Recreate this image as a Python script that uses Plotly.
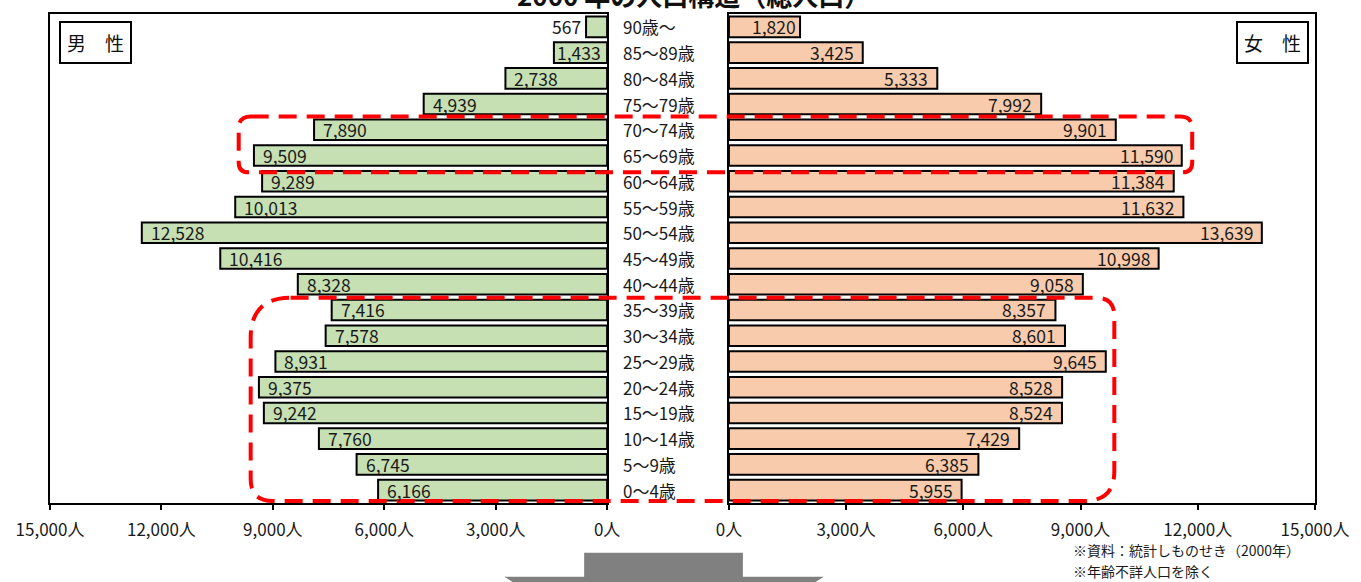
import plotly.graph_objects as go

# ---------------- data ----------------
ages = ["90歳～", "85～89歳", "80～84歳", "75～79歳", "70～74歳", "65～69歳",
        "60～64歳", "55～59歳", "50～54歳", "45～49歳", "40～44歳", "35～39歳",
        "30～34歳", "25～29歳", "20～24歳", "15～19歳", "10～14歳", "5～9歳", "0～4歳"]
male = [567, 1433, 2738, 4939, 7890, 9509, 9289, 10013, 12528, 10416, 8328,
        7416, 7578, 8931, 9375, 9242, 7760, 6745, 6166]
female = [1820, 3425, 5333, 7992, 9901, 11590, 11384, 11632, 13639, 10998, 9058,
          8357, 8601, 9645, 8528, 8524, 7429, 6385, 5955]
tick_vals = [0, 3000, 6000, 9000, 12000, 15000]
tick_text = ["0人", "3,000人", "6,000人", "9,000人", "12,000人", "15,000人"]
title_text = "2000 年の人口構造（総人口）"
male_label = "男　性"
female_label = "女　性"
notes = ["※資料：統計しものせき（2000年）", "※年齢不詳人口を除く"]

# ---------------- layout geometry ----------------
W, H = 1361, 582
ML, MR, MT, MB = 50, 44, 12, 79
PW = W - ML - MR
PH = H - MT - MB


def px(x):
    return (x - ML) / PW


def py(y):
    return (H - MB - y) / PH


FONT = "Noto Sans CJK JP, Noto Sans, sans-serif"
GREEN = "#C6E0B4"
SALMON = "#F8CBAD"
TXT = "#1a1a1a"

fig = go.Figure()
fig.add_trace(go.Bar(y=ages, x=male, orientation="h", xaxis="x", yaxis="y",
                     marker=dict(color=GREEN, line=dict(color="#000000", width=2)),
                     width=0.8, hoverinfo="x+y"))
fig.add_trace(go.Bar(y=ages, x=female, orientation="h", xaxis="x2", yaxis="y2",
                     marker=dict(color=SALMON, line=dict(color="#000000", width=2)),
                     width=0.8, hoverinfo="x+y"))

annotations = []
VAL_FONT = dict(size=17.5, color=TXT, family=FONT)
for a, m, f in zip(ages, male, female):
    if m < 1000:
        annotations.append(dict(x=m, y=a, xref="x", yref="y", text=f"{m:,}",
                                xanchor="right", xshift=-3, showarrow=False, font=VAL_FONT))
    else:
        annotations.append(dict(x=m, y=a, xref="x", yref="y", text=f"{m:,}",
                                xanchor="left", xshift=7 if m > 2000 else 1,
                                showarrow=False, font=VAL_FONT))
    annotations.append(dict(x=f, y=a, xref="x2", yref="y", text=f"{f:,}",
                            xanchor="right", xshift=-7 if f > 2000 else -2,
                            showarrow=False, font=VAL_FONT))
    annotations.append(dict(x=px(622), y=a, xref="paper", yref="y",
                            text=a, xanchor="left", showarrow=False,
                            font=dict(size=17, color=TXT, family=FONT)))

annotations.append(dict(x=px(695), y=py(-8), xref="paper", yref="paper",
                        text=f"<b>{title_text}</b>", showarrow=False,
                        xanchor="center", yanchor="middle",
                        font=dict(size=26, color="#111", family=FONT)))
annotations.append(dict(x=px(59), y=py(19), xref="paper", yref="paper",
                        text=male_label, showarrow=False, xanchor="left", yanchor="top",
                        bordercolor="#000", borderwidth=2, borderpad=6,
                        bgcolor="white", font=dict(size=19, color="#111", family=FONT)))
annotations.append(dict(x=px(1311), y=py(19), xref="paper", yref="paper",
                        text=female_label, showarrow=False, xanchor="right", yanchor="top",
                        bordercolor="#000", borderwidth=2, borderpad=6,
                        bgcolor="white", font=dict(size=19, color="#111", family=FONT)))
for i, n in enumerate(notes):
    annotations.append(dict(x=px(1073), y=py(550 + 21 * i), xref="paper", yref="paper",
                            text=n, showarrow=False, xanchor="left", yanchor="middle",
                            font=dict(size=14, color=TXT, family=FONT)))


def rrect(x0, y0, x1, y1, rtl, rtr, rbr, rbl):
    def P(x, y):
        return f"{px(x):.5f},{py(y):.5f}"
    s = f"M {P(x0 + rtl, y0)} L {P(x1 - rtr, y0)} Q {P(x1, y0)} {P(x1, y0 + rtr)} "
    s += f"L {P(x1, y1 - rbr)} Q {P(x1, y1)} {P(x1 - rbr, y1)} "
    s += f"L {P(x0 + rbl, y1)} Q {P(x0, y1)} {P(x0, y1 - rbl)} "
    s += f"L {P(x0, y0 + rtl)} Q {P(x0, y0)} {P(x0 + rtl, y0)}"
    return s


dash_line = dict(color="#FF0000", width=4, dash="18px,10px")
shapes = [
    dict(type="path", xref="paper", yref="paper",
         path=rrect(239, 115, 1194, 171, 12, 12, 10, 10), line=dash_line, layer="above"),
    dict(type="path", xref="paper", yref="paper",
         path=rrect(251, 297, 1116, 501, 40, 18, 30, 22), line=dash_line, layer="above"),
]
arrow_pts = [(585, 553), (744, 553), (744, 577), (825, 577), (665, 680), (505, 577), (585, 577)]
arrow_path = "M " + " L ".join(f"{px(x):.5f},{py(y):.5f}" for x, y in arrow_pts) + " Z"
shapes.append(dict(type="path", xref="paper", yref="paper", path=arrow_path,
                   fillcolor="#808080", line=dict(width=0), layer="above"))

axis_common = dict(showline=True, linecolor="#000", linewidth=2, mirror=True,
                   showgrid=False, zeroline=False, ticks="outside", ticklen=5,
                   tickwidth=2, tickcolor="#000", tickvals=tick_vals, ticktext=tick_text,
                   tickfont=dict(size=17, color=TXT, family=FONT),
                   ticklabelstandoff=6, fixedrange=True)
yaxis_common = dict(showline=True, linecolor="#000", linewidth=2, mirror=True,
                    showgrid=False, zeroline=False, showticklabels=False, ticks="",
                    categoryorder="array", categoryarray=ages,
                    range=[len(ages) - 0.5, -0.5], fixedrange=True)

fig.update_layout(
    width=W, height=H,
    margin=dict(l=ML, r=MR, t=MT, b=MB),
    paper_bgcolor="white", plot_bgcolor="white",
    showlegend=False, barmode="overlay",
    font=dict(family=FONT),
    xaxis=dict(domain=[0, px(608)], range=[15000, 0], anchor="y", **axis_common),
    xaxis2=dict(domain=[px(730), 1], range=[0, 15000], anchor="y2", **axis_common),
    yaxis=dict(anchor="x", domain=[0, 1], **yaxis_common),
    yaxis2=dict(anchor="x2", domain=[0, 1], matches="y", **yaxis_common),
    annotations=annotations,
    shapes=shapes,
)

fig.write_html("out.html")
